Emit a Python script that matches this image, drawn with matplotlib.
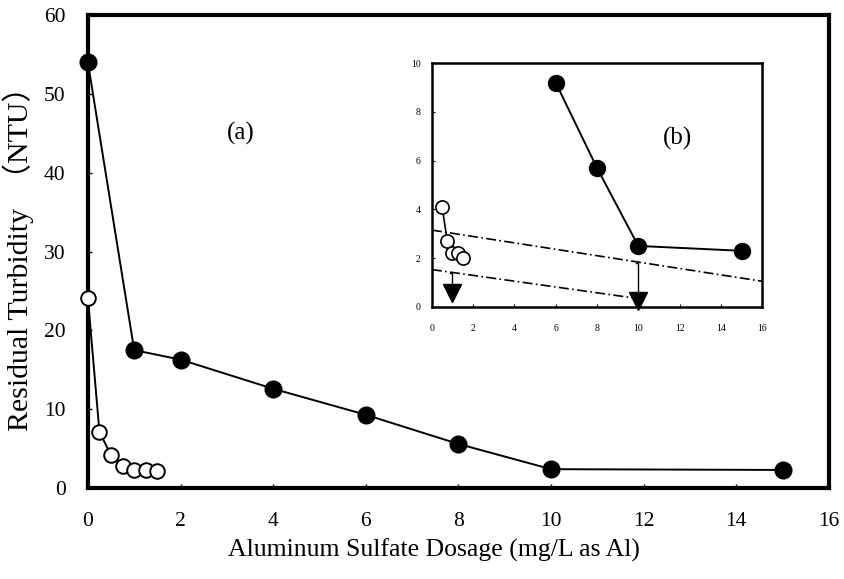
import matplotlib
matplotlib.use("Agg")
import matplotlib.pyplot as plt

# filled circles: alum dosage vs residual turbidity
dose_a = [0, 1, 2, 4, 6, 8, 10, 15]
turb_a = [54, 17.5, 16.3, 12.6, 9.3, 5.6, 2.4, 2.3]
# open circles
dose_b = [0, 0.25, 0.5, 0.75, 1.0, 1.25, 1.5]
turb_b = [24.1, 7.1, 4.2, 2.8, 2.3, 2.3, 2.2]

# inset (b) data
in_dose_a = [6, 8, 10, 15]
in_turb_a = [9.2, 5.7, 2.5, 2.3]
in_dose_b = [0.5, 0.75, 1.0, 1.25, 1.5]
in_turb_b = [4.1, 2.7, 2.2, 2.2, 2.0]

# dash-dot guide lines in inset
upper_x = [0, 16]
upper_y = [3.15, 1.05]
lower_x = [0, 10]
lower_y = [1.53, 0.34]

serif = ['Liberation Serif', 'Noto Sans CJK JP']
plt.rcParams['font.family'] = serif

fig = plt.figure(figsize=(8.45, 5.79), dpi=100)
ax = fig.add_axes([0.104, 0.157, 0.877, 0.817])

ax.plot(dose_a, turb_a, '-o', color='black', lw=1.4, ms=12,
        markerfacecolor='black', zorder=3, clip_on=False)
ax.plot(dose_b, turb_b, '-o', color='black', lw=1.4, ms=10.5,
        markerfacecolor='white', markeredgewidth=1.4, zorder=3, clip_on=False)

ax.set_xlim(0, 16)
ax.set_ylim(0, 60)
ax.set_xticks(range(0, 17, 2))
ax.set_yticks(range(0, 61, 10))
ax.tick_params(direction='in', length=3, width=1, labelsize=15.5, pad=16)
ax.tick_params(axis='x', pad=17)
for s in ax.spines.values():
    s.set_linewidth(3)

ax.set_xlabel('Aluminum Sulfate Dosage (mg/L as Al)', fontsize=18.5)
ax.xaxis.set_label_coords(0.467, -0.106)
ax.set_ylabel('Residual Turbidity  （NTU）', fontsize=21.5, labelpad=7)
ax.text(3.3, 45, '(a)', fontsize=18, ha='center', va='center')

# inset
ins = fig.add_axes([0.511, 0.470, 0.391, 0.421])
ins.plot(in_dose_a, in_turb_a, '-o', color='black', lw=1.4, ms=11.5,
         markerfacecolor='black', zorder=3)
ins.plot(in_dose_b, in_turb_b, '-o', color='black', lw=1.2, ms=9.5,
         markerfacecolor='white', markeredgewidth=1.2, zorder=3)
ins.plot(upper_x, upper_y, color='black', lw=1.2, ls=(0, (6, 2, 1, 2)))
ins.plot(lower_x, lower_y, color='black', lw=1.2, ls=(0, (6, 2, 1, 2)))

# arrows down to the x axis
ins.plot([0.9, 1.0, 1.0], [1.37, 1.37, 0.8], color='black', lw=1)
ins.plot([1.0], [0.55], marker='v', color='black', ms=13, clip_on=False)
ins.plot([9.9, 10.0, 10.0], [1.8, 1.8, 0.4], color='black', lw=1)
ins.plot([10.0], [0.25], marker='v', color='black', ms=13, clip_on=False)

ins.set_xlim(0, 16)
ins.set_ylim(0, 10)
ins.set_xticks(range(0, 17, 2))
ins.set_yticks(range(0, 11, 2))
ins.tick_params(direction='in', length=2, width=0.8, labelsize=7, pad=8)
ins.tick_params(axis='x', pad=12)
for s in ins.spines.values():
    s.set_linewidth(1.8)
ins.text(11.9, 6.9, '(b)', fontsize=18, ha='center', va='center')

fig.savefig('out.png', dpi=100)
